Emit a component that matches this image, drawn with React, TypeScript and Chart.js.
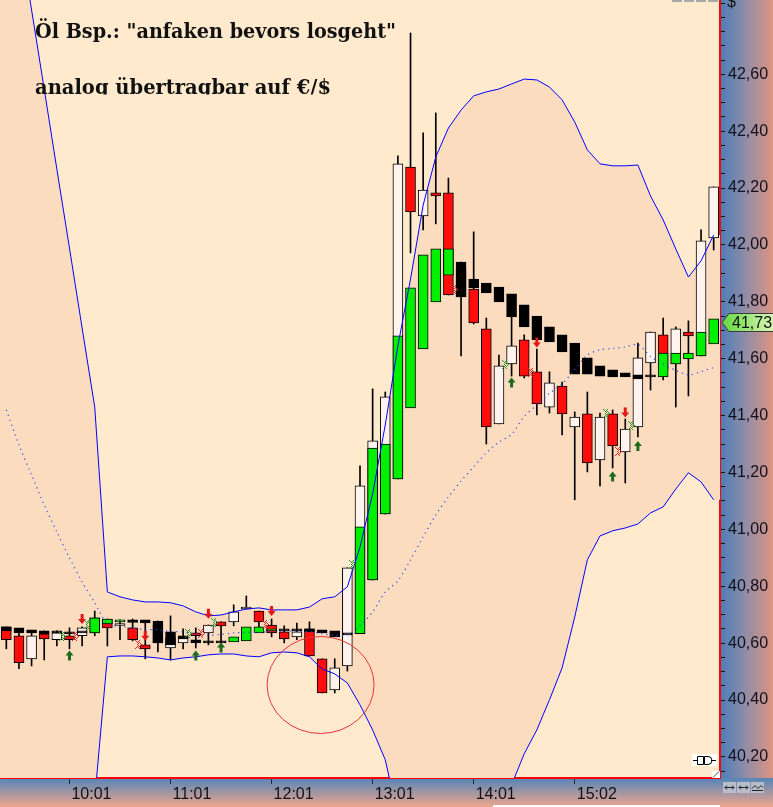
import React, { useEffect, useRef } from 'react';
import { Chart, registerables } from 'chart.js';

Chart.register(...registerables);

// ---------- categories (7.5-minute slots) ----------
const timeLabels: string[] = [
  '', '', '', '', '', '10:01', '', '', '', '', '', '', '',
  '11:01', '', '', '', '', '', '', '',
  '12:01', '', '', '', '', '', '', '',
  '13:01', '', '', '', '', '', '', '',
  '14:01', '', '', '', '', '', '', '',
  '15:02', '', '', '', '', '', '', '', '', '', '', '',
];

// ---------- regular OHLC candles ----------
const openP = [40.657, 40.626, 40.545, 40.633, 40.612, 40.626, 40.626, 40.636, 40.685, 40.662,
  40.654, 40.594, 40.664, 40.583, 40.601, 40.636, 40.636, 40.675, 40.675, 40.720,
  40.713, 40.664, 40.640, 40.622, 40.650, 40.545, 40.436, 40.520, 40.633, 40.822,
  41.054, 41.177, 42.274, 42.102, 42.183, 42.183, 41.912, 41.845, 41.705, 41.371,
  41.582, 41.666, 41.554, 41.430, 41.504, 41.360, 41.406, 41.244, 41.406, 41.272,
  41.360, 41.585, 41.684, 41.582, 41.694, 41.610, 42.025];
const highP = [40.657, 40.647, 40.643, 40.643, 40.643, 40.654, 40.657, 40.713, 40.685, 40.682,
  40.685, 40.671, 40.678, 40.696, 40.650, 40.654, 40.664, 40.675, 40.735, 40.766,
  40.713, 40.685, 40.661, 40.671, 40.675, 40.545, 40.545, 40.865, 41.223, 41.494,
  41.483, 42.313, 42.745, 42.394, 42.464, 42.235, 41.940, 42.046, 41.743, 41.613,
  41.747, 41.684, 41.634, 41.554, 41.518, 41.413, 41.483, 41.409, 41.420, 41.388,
  41.655, 41.694, 41.743, 41.712, 41.733, 42.053, 42.204];
const lowP = [40.580, 40.510, 40.520, 40.541, 40.590, 40.580, 40.590, 40.626, 40.590, 40.612,
  40.608, 40.545, 40.569, 40.541, 40.580, 40.583, 40.594, 40.601, 40.661, 40.720,
  40.657, 40.622, 40.601, 40.612, 40.555, 40.425, 40.425, 40.502, 40.633, 40.822,
  41.054, 41.177, 41.972, 42.053, 42.074, 41.824, 41.610, 41.722, 41.300, 41.371,
  41.539, 41.532, 41.402, 41.409, 41.332, 41.104, 41.202, 41.153, 41.216, 41.163,
  41.325, 41.490, 41.525, 41.430, 41.469, 41.610, 41.982];
const closeP = [40.612, 40.531, 40.626, 40.615, 40.636, 40.612, 40.654, 40.689, 40.654, 40.666,
  40.612, 40.580, 40.601, 40.619, 40.622, 40.626, 40.664, 40.661, 40.710, 40.727,
  40.675, 40.636, 40.615, 40.640, 40.555, 40.425, 40.513, 40.865, 41.153, 41.311,
  41.466, 42.285, 42.116, 42.193, 42.172, 41.824, 41.817, 41.726, 41.360, 41.575,
  41.645, 41.539, 41.441, 41.515, 41.406, 41.395, 41.234, 41.395, 41.293, 41.353,
  41.603, 41.694, 41.561, 41.705, 41.680, 42.014, 42.204];

// ---------- Heikin-Ashi bodies ----------
const haOpen = [40.657, 40.654, 40.647, 40.643, 40.640, 40.640, 40.640, 40.636, 40.668, 40.675,
  40.682, 40.682, 40.678, 40.640, 40.626, 40.612, 40.604, 40.604, 40.604, 40.608,
  40.636, 40.643, 40.647, 40.647, 40.650, 40.647, 40.643, 40.636, 40.633, 40.822,
  41.054, 41.177, 41.427, 41.634, 41.800, 41.894, 41.940, 41.880, 41.866, 41.852,
  41.828, 41.789, 41.750, 41.712, 41.684, 41.655, 41.603, 41.575, 41.561, 41.550,
  41.543, 41.543, 41.536, 41.582, 41.599, 41.610, 41.652];
const haClose = [40.643, 40.636, 40.636, 40.633, 40.636, 40.633, 40.636, 40.689, 40.685, 40.682,
  40.673, 40.671, 40.601, 40.594, 40.615, 40.601, 40.601, 40.601, 40.622, 40.657,
  40.657, 40.650, 40.643, 40.643, 40.640, 40.636, 40.622, 40.629, 41.009, 41.286,
  41.300, 41.680, 41.849, 41.965, 41.986, 41.986, 41.817, 41.849, 41.831, 41.800,
  41.747, 41.712, 41.666, 41.659, 41.624, 41.546, 41.546, 41.539, 41.536, 41.536,
  41.529, 41.536, 41.620, 41.620, 41.620, 41.694, 41.740];

// ---------- Bollinger bands ----------
const bandUpper = [43.385, 43.107, 42.826, 42.548, 42.267, 41.989, 41.708, 41.430, 40.780, 40.763,
  40.752, 40.745, 40.745, 40.742, 40.731, 40.710, 40.696, 40.699, 40.710, 40.720,
  40.724, 40.717, 40.717, 40.717, 40.727, 40.756, 40.763, 40.798, 40.938, 41.125,
  41.367, 41.645, 41.880, 42.140, 42.309, 42.411, 42.474, 42.524, 42.538, 42.548,
  42.566, 42.583, 42.580, 42.555, 42.510, 42.432, 42.334, 42.285, 42.278, 42.278,
  42.281, 42.172, 42.088, 41.986, 41.887, 41.944, 42.035];
const bandMiddle = [41.420, 41.297, 41.191, 41.086, 40.991, 40.900, 40.815, 40.742, 40.668, 40.659,
  40.654, 40.648, 40.647, 40.641, 40.640, 40.631, 40.627, 40.631, 40.636, 40.638,
  40.638, 40.641, 40.643, 40.641, 40.640, 40.633, 40.627, 40.629, 40.661, 40.710,
  40.780, 40.819, 40.893, 40.974, 41.051, 41.114, 41.170, 41.220, 41.269, 41.307,
  41.334, 41.397, 41.437, 41.478, 41.511, 41.562, 41.613, 41.631, 41.636, 41.641,
  41.650, 41.608, 41.580, 41.559, 41.543, 41.555, 41.569];
const bandLower = [39.455, 39.487, 39.557, 39.624, 39.715, 39.810, 39.923, 40.053, 40.552, 40.555,
  40.555, 40.552, 40.548, 40.541, 40.548, 40.552, 40.559, 40.562, 40.562, 40.555,
  40.552, 40.566, 40.569, 40.566, 40.552, 40.509, 40.492, 40.460, 40.383, 40.295,
  40.190, 39.993, 39.905, 39.807, 39.793, 39.817, 39.866, 39.916, 40.000, 40.067,
  40.102, 40.211, 40.295, 40.401, 40.513, 40.692, 40.893, 40.977, 40.995, 41.005,
  41.019, 41.058, 41.079, 41.142, 41.199, 41.167, 41.104];

// ---------- signals ----------
const sellArrowSlots = [6, 11, 16, 21, 42, 49];
const sellArrowPrices = [40.685, 40.626, 40.703, 40.713, 41.657, 41.411];
const buyArrowSlots = [5, 15, 17, 40, 48, 50];
const buyArrowPrices = [40.557, 40.557, 40.585, 41.516, 41.186, 41.293];
const greenMarkSlots = [4.41, 6.39, 14.39, 16.48, 27.37, 39.48, 47.48, 49.46];
const greenMarkPrices = [40.626, 40.668, 40.636, 40.675, 40.879, 41.583, 41.408, 41.367];
const redMarkSlots = [5.44, 10.43, 15.42, 20.48, 35.45, 41.51, 48.43];
const redMarkPrices = [40.626, 40.597, 40.636, 40.666, 41.845, 41.555, 41.276];
const circleSlot = 24.88;
const circlePrice = 40.453;
const lastPrice = 41.73;

const yMin = 40.126;
const yMax = 42.861;

const titleLine1 = 'Öl Bsp.: "anfaken bevors losgeht"';
const titleLine2 = 'analog übertragbar auf €/$';

const WHITE = '#FFF3EE';
const RED = '#FF0C0C';
const GREEN = '#00F000';
const BAND_FILL = '#FCDCBF';

function drawArrow(ctx: CanvasRenderingContext2D, cx: number, cy: number, up: boolean, color: string) {
  const s = up ? 1 : -1;
  ctx.beginPath();
  ctx.moveTo(cx, cy - 5 * s);
  ctx.lineTo(cx + 4, cy);
  ctx.lineTo(cx + 1.5, cy);
  ctx.lineTo(cx + 1.5, cy + 5 * s);
  ctx.lineTo(cx - 1.5, cy + 5 * s);
  ctx.lineTo(cx - 1.5, cy);
  ctx.lineTo(cx - 4, cy);
  ctx.closePath();
  ctx.fillStyle = color;
  ctx.fill();
}

function drawChevrons(ctx: CanvasRenderingContext2D, cx: number, cy: number, color: string) {
  ctx.fillStyle = color;
  const x0 = Math.round(cx - 3);
  const y0 = Math.round(cy - 4);
  for (let r = 0; r <= 8; r++) {
    const d = 4 - Math.abs(r - 4);
    for (let c = 0; c < 7; c++) {
      const a = c - Math.floor(d / 1.4);
      if ((a === 0 || a === 1 || a === 3 || a === 4) && (r + c) % 2 === 0) {
        ctx.fillRect(x0 + c, y0 + r, 1, 1);
      }
    }
  }
}

const backgroundPlugin = {
  id: 'bgPlugin',
  beforeDraw(chart: any) {
    const { ctx, chartArea: ca, width, height } = chart;
    ctx.save();
    ctx.fillStyle = '#FFEACE';
    ctx.fillRect(ca.left, ca.top, ca.right - ca.left, ca.bottom - ca.top);
    const gy = ctx.createLinearGradient(ca.right, 0, width, 0);
    gy.addColorStop(0, '#4A7DB8');
    gy.addColorStop(0.5, '#948DA6');
    gy.addColorStop(1, '#DC9482');
    ctx.fillStyle = gy;
    ctx.fillRect(ca.right, 0, width - ca.right, ca.bottom);
    const gx = ctx.createLinearGradient(0, ca.bottom, 0, height);
    gx.addColorStop(0, '#5485B8');
    gx.addColorStop(1, '#F0A68C');
    ctx.fillStyle = gx;
    ctx.fillRect(0, ca.bottom, width, height - ca.bottom);
    ctx.restore();
  },
  beforeDatasetsDraw(chart: any) {
    // extend the band shading to the plot edges (before first / after last slot)
    const { ctx, chartArea: ca } = chart;
    const x = chart.scales.x;
    const y = chart.scales.y;
    const n = bandUpper.length - 1;
    ctx.save();
    ctx.beginPath();
    ctx.rect(ca.left, ca.top, ca.right - ca.left, ca.bottom - ca.top);
    ctx.clip();
    ctx.fillStyle = BAND_FILL;
    const x0 = x.getPixelForValue(0);
    const u0 = y.getPixelForValue(bandUpper[0]);
    const l0 = y.getPixelForValue(bandLower[0]);
    ctx.fillRect(ca.left, u0, x0 - ca.left + 0.5, l0 - u0);
    const xn = x.getPixelForValue(n);
    const un = y.getPixelForValue(bandUpper[n]);
    const ln = y.getPixelForValue(bandLower[n]);
    ctx.fillRect(xn - 0.5, un, ca.right - xn + 0.5, ln - un);
    ctx.restore();
  },
  afterDatasetsDraw(chart: any) {
    const { ctx, chartArea: ca } = chart;
    const x = chart.scales.x;
    const y = chart.scales.y;
    ctx.save();
    ctx.beginPath();
    ctx.rect(ca.left, ca.top, ca.right - ca.left, ca.bottom - ca.top);
    ctx.clip();
    sellArrowSlots.forEach((s, i) => drawArrow(ctx, x.getPixelForValue(s), y.getPixelForValue(sellArrowPrices[i]), false, '#E01818'));
    buyArrowSlots.forEach((s, i) => drawArrow(ctx, x.getPixelForValue(s), y.getPixelForValue(buyArrowPrices[i]), true, '#1C6B1C'));
    greenMarkSlots.forEach((s, i) => drawChevrons(ctx, x.getPixelForValue(s), y.getPixelForValue(greenMarkPrices[i]), '#2E9A2E'));
    redMarkSlots.forEach((s, i) => drawChevrons(ctx, x.getPixelForValue(s), y.getPixelForValue(redMarkPrices[i]), '#E02A2A'));
    ctx.beginPath();
    ctx.ellipse(x.getPixelForValue(circleSlot), y.getPixelForValue(circlePrice), 53.5, 48.5, 0, 0, Math.PI * 2);
    ctx.strokeStyle = '#E8323A';
    ctx.lineWidth = 1;
    ctx.stroke();
    // title text
    ctx.fillStyle = '#111111';
    ctx.textBaseline = 'alphabetic';
    ctx.font = 'bold 20px "DejaVu Serif"';
    const w1 = ctx.measureText(titleLine1).width;
    ctx.save();
    ctx.translate(35, 37.5);
    ctx.scale(361 / w1, 1);
    ctx.fillText(titleLine1, 0, 0);
    ctx.restore();
    ctx.save();
    ctx.beginPath();
    ctx.rect(0, 0, 720, 94.5);
    ctx.clip();
    const w2 = ctx.measureText(titleLine2).width;
    ctx.translate(35, 93.5);
    ctx.scale(296 / w2, 1);
    ctx.fillText(titleLine2, 0, 0);
    ctx.restore();
    // top-right dashes
    ctx.fillStyle = '#A8A8A8';
    [672, 684, 696, 708].forEach((dx) => ctx.fillRect(dx, 0, 10, 2));
    // small icon
    ctx.fillStyle = '#FFFFFF';
    ctx.fillRect(692, 754, 25, 12);
    ctx.strokeStyle = '#000';
    ctx.lineWidth = 1;
    ctx.beginPath();
    ctx.moveTo(693, 760.5); ctx.lineTo(697, 760.5);
    ctx.moveTo(711, 760.5); ctx.lineTo(716, 760.5);
    ctx.rect(697.5, 756.5, 6, 8);
    ctx.moveTo(704.5, 756.5); ctx.lineTo(708, 756.5); ctx.arc(708, 760.5, 4, -Math.PI / 2, Math.PI / 2); ctx.lineTo(704.5, 764.5); ctx.closePath();
    ctx.stroke();
    // resize corner
    ctx.fillStyle = '#FFFFFF';
    ctx.fillRect(712, 771, 8, 7);
    ctx.beginPath();
    ctx.moveTo(713, 777.5); ctx.lineTo(719, 771.5);
    ctx.strokeStyle = '#555';
    ctx.stroke();
    ctx.restore();
  },
  afterDraw(chart: any) {
    const { ctx, chartArea: ca, width } = chart;
    const y = chart.scales.y;
    ctx.save();
    const py = Math.round(y.getPixelForValue(lastPrice)) + 0.5;
    ctx.beginPath();
    ctx.moveTo(ca.right + 2, py);
    ctx.lineTo(ca.right + 9, py - 9);
    ctx.lineTo(width + 2, py - 9);
    ctx.lineTo(width + 2, py + 9);
    ctx.lineTo(ca.right + 9, py + 9);
    ctx.closePath();
    const g = ctx.createLinearGradient(ca.right, 0, width, 0);
    g.addColorStop(0, '#5ED83A');
    g.addColorStop(1, '#D9F5B5');
    ctx.fillStyle = g;
    ctx.fill();
    ctx.strokeStyle = '#3C3C3C';
    ctx.lineWidth = 1;
    ctx.stroke();
    ctx.fillStyle = '#111';
    ctx.font = '16px "Liberation Sans"';
    ctx.textBaseline = 'middle';
    ctx.fillText(lastPrice.toFixed(2).replace('.', ','), ca.right + 12, py + 1);
    ctx.fillText('$', ca.right + 7, 3);
    // bottom-right buttons
    [723, 737, 751].forEach((bx, i) => {
      ctx.fillStyle = '#B7BDCB';
      ctx.fillRect(bx, 782, 13, 11);
      ctx.strokeStyle = '#222';
      ctx.beginPath();
      if (i < 2) {
        ctx.moveTo(bx + 2, 787.5); ctx.lineTo(bx + 11, 787.5);
        ctx.moveTo(bx + 4, 785.5); ctx.lineTo(bx + 2, 787.5); ctx.lineTo(bx + 4, 789.5);
        ctx.moveTo(bx + 9, 785.5); ctx.lineTo(bx + 11, 787.5); ctx.lineTo(bx + 9, 789.5);
      } else {
        ctx.moveTo(bx + 1, 788.5); ctx.lineTo(bx + 4, 785.5); ctx.lineTo(bx + 7, 788.5); ctx.lineTo(bx + 10, 785.5); ctx.lineTo(bx + 12, 787.5);
        ctx.moveTo(bx + 1, 790.5); ctx.lineTo(bx + 12, 790.5);
      }
      ctx.stroke();
    });
    ctx.fillStyle = '#FFFFFF';
    ctx.fillRect(493, 805, ca.right - 493, 2);
    ctx.restore();
  },
};

export default function App() {
  const ref = useRef<HTMLCanvasElement>(null);
  useEffect(() => {
    document.body.style.margin = '0';
    const canvas = ref.current;
    if (!canvas) return;

    const bodyColors = openP.map((o, i) => (closeP[i] >= o ? WHITE : RED));
    const haColors = haOpen.map((o, i) => (haClose[i] >= o ? GREEN : '#000000'));

    const chart = new Chart(canvas, {
      type: 'bar',
      data: {
        labels: timeLabels,
        datasets: [
          {
            type: 'line',
            data: bandUpper,
            borderWidth: 0,
            pointRadius: 0,
            fill: '+1',
            backgroundColor: BAND_FILL,
            order: 20,
          } as any,
          {
            type: 'line',
            data: bandLower,
            borderWidth: 0,
            pointRadius: 0,
            fill: false,
            order: 20,
          } as any,
          {
            type: 'bar',
            data: lowP.map((l, i) => [l, highP[i]]),
            backgroundColor: '#000000',
            barThickness: 1,
            grouped: false,
            order: 8,
          } as any,
          {
            type: 'bar',
            data: openP.map((o, i) => [o, closeP[i]]),
            backgroundColor: bodyColors,
            borderColor: '#000000',
            borderWidth: 1,
            borderSkipped: false,
            barThickness: 10,
            minBarLength: 2,
            grouped: false,
            order: 7,
          } as any,
          {
            type: 'bar',
            data: haOpen.map((o, i) => [o, haClose[i]]),
            backgroundColor: haColors,
            borderColor: '#000000',
            borderWidth: 1,
            borderSkipped: false,
            barThickness: 10,
            minBarLength: 2,
            grouped: false,
            order: 6,
          } as any,
          {
            type: 'line',
            data: bandUpper,
            borderColor: '#0000FF',
            borderWidth: 1,
            pointRadius: 0,
            fill: false,
            tension: 0,
            order: 1,
          } as any,
          {
            type: 'line',
            data: bandLower,
            borderColor: '#0000FF',
            borderWidth: 1,
            pointRadius: 0,
            fill: false,
            tension: 0,
            order: 1,
          } as any,
          {
            type: 'line',
            data: bandMiddle,
            borderColor: '#2A4CF0',
            borderWidth: 1.2,
            borderDash: [1.2, 4],
            pointRadius: 0,
            fill: false,
            tension: 0.3,
            order: 1,
          } as any,
        ],
      },
      options: {
        responsive: false,
        devicePixelRatio: 1,
        animation: false,
        events: [],
        layout: { padding: 0, autoPadding: false },
        plugins: {
          legend: { display: false },
          tooltip: { enabled: false },
          title: { display: false },
        },
        scales: {
          x: {
            type: 'category',
            offset: true,
            grid: {
              display: true,
              drawOnChartArea: false,
              offset: false,
              tickLength: 6,
              tickColor: (c: any) => (timeLabels[c.index] ? '#2A2A2A' : 'rgba(0,0,0,0)'),
            },
            border: { display: true, color: '#FF0000', width: 2 },
            ticks: {
              autoSkip: false,
              maxRotation: 0,
              minRotation: 0,
              align: 'start',
              labelOffset: 2,
              padding: 1,
              color: '#111111',
              font: { family: 'Liberation Sans', size: 16 },
            },
            afterFit: (s: any) => {
              s.height = 29;
              s.paddingLeft = 0;
              s.paddingRight = 0;
            },
          },
          y: {
            type: 'linear',
            position: 'right',
            min: yMin,
            max: yMax,
            grid: {
              display: true,
              drawOnChartArea: false,
              tickLength: 5,
              tickColor: '#111111',
            },
            border: { display: true, color: '#FF0000', width: 2 },
            ticks: {
              stepSize: 0.05,
              includeBounds: false,
              autoSkip: false,
              padding: 3,
              color: '#10101C',
              font: { family: 'Liberation Sans', size: 16 },
              callback: (v: any) => {
                const n = Number(v);
                const m = Math.round(n * 20);
                if (m % 4 !== 0 || n > 42.7) return '';
                return n.toFixed(2).replace('.', ',');
              },
            },
            afterFit: (s: any) => {
              s.width = 53;
              s.paddingTop = 0;
              s.paddingBottom = 0;
            },
          },
        },
      } as any,
      plugins: [backgroundPlugin],
    });
    return () => chart.destroy();
  }, []);

  return (
    <div style={{ width: 773, height: 807, position: 'relative', overflow: 'hidden' }}>
      <canvas ref={ref} width={773} height={807} style={{ display: 'block', width: 773, height: 807 }} />
    </div>
  );
}
